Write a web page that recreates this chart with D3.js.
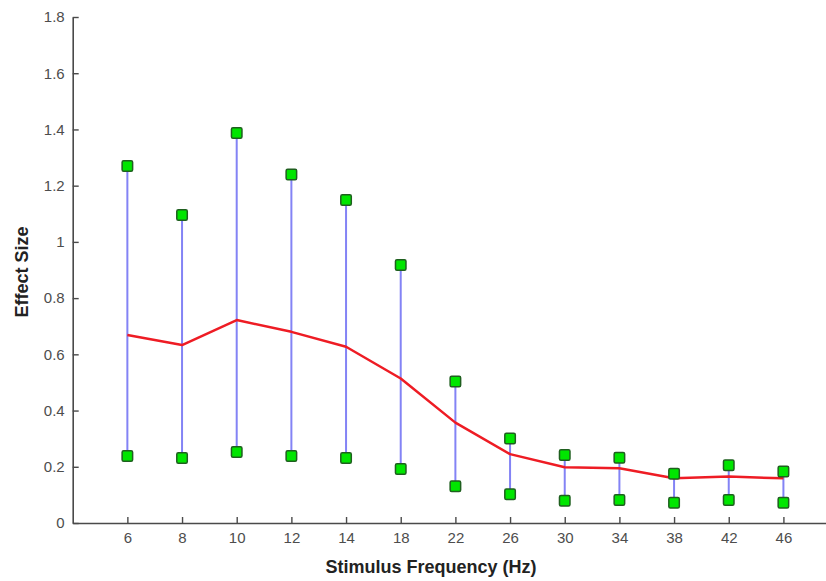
<!DOCTYPE html>
<html>
<head>
<meta charset="utf-8">
<script src="https://cdn.jsdelivr.net/npm/d3@7"></script>
<style>
  body { margin: 0; background: #fff; }
  svg { display: block; }
</style>
</head>
<body>
<div id="chart"></div>
<script>
(function (d3) {
  'use strict';

  const width = 826;
  const height = 581;

  // stimulus frequencies (Hz), shown as evenly spaced categories
  const frequencies = [6, 8, 10, 12, 14, 18, 22, 26, 30, 34, 38, 42, 46];
  const upperValues = [1.27, 1.096, 1.387, 1.24, 1.149, 0.918, 0.503, 0.301, 0.242, 0.232, 0.175, 0.205, 0.183];
  const lowerValues = [0.238, 0.231, 0.253, 0.238, 0.231, 0.192, 0.131, 0.102, 0.079, 0.082, 0.072, 0.082, 0.072];
  const meanValues = [0.669, 0.633, 0.722, 0.68, 0.627, 0.514, 0.357, 0.245, 0.198, 0.195, 0.159, 0.165, 0.159];
  const yTicks = [0, 0.2, 0.4, 0.6, 0.8, 1, 1.2, 1.4, 1.6, 1.8];

  const x0 = 72.7, yBottom = 523, yTop = 17;

  const svg = d3.select("#chart").append("svg")
    .attr("width", width)
    .attr("height", height);

  // categories sit at index 1..13, axis spans 0..14
  const x = d3.scaleLinear()
    .domain([0, frequencies.length + 1])
    .range([x0, x0 + 54.67 * (frequencies.length + 1)]);

  const y = d3.scaleLinear()
    .domain([0, 1.8])
    .range([yBottom, yTop]);

  const data = frequencies.map(function (d, i) {
    return { f: d, i: i + 1, hi: upperValues[i], lo: lowerValues[i], m: meanValues[i] };
  });

  const axisColor = "#4a4a4a";
  const textColor = "#4d4d4d";

  // x axis, ticks pointing inward
  const xAxis = svg.append("g")
    .attr("transform", "translate(0," + yBottom + ")")
    .call(d3.axisBottom(x)
      .tickValues(data.map(function (d) { return d.i; }))
      .tickFormat(function (v) { return frequencies[v - 1]; })
      .tickSizeInner(-6)
      .tickSizeOuter(0)
      .tickPadding(9));

  // y axis
  const yAxis = svg.append("g")
    .attr("transform", "translate(" + x0 + ",0)")
    .call(d3.axisLeft(y)
      .tickValues(yTicks)
      .tickFormat(function (v) { return v; })
      .tickSizeInner(-6)
      .tickSizeOuter(0)
      .tickPadding(8));

  [xAxis, yAxis].forEach(function (g) {
    g.select(".domain").attr("stroke", axisColor).attr("stroke-width", 1.6);
    g.selectAll(".tick line").attr("stroke", axisColor).attr("stroke-width", 1.4);
    g.selectAll(".tick text")
      .attr("fill", textColor)
      .style("font", "15px 'Liberation Sans', Arial, sans-serif");
  });

  // range lines
  svg.selectAll("line.range")
    .data(data)
    .enter()
    .append("line")
    .attr("class", "range")
    .attr("x1", function (d) { return x(d.i); })
    .attr("x2", function (d) { return x(d.i); })
    .attr("y1", function (d) { return y(d.lo); })
    .attr("y2", function (d) { return y(d.hi); })
    .attr("stroke", "#8383f5")
    .attr("stroke-width", 2);

  // mean line
  const line = d3.line()
    .x(function (d) { return x(d.i); })
    .y(function (d) { return y(d.m); });

  svg.append("path")
    .datum(data)
    .attr("d", line)
    .attr("fill", "none")
    .attr("stroke", "#ee1c24")
    .attr("stroke-width", 2.5)
    .attr("stroke-linejoin", "round");

  // square markers at both ends
  const size = 10.5;
  const ends = [];
  data.forEach(function (d) {
    ends.push({ i: d.i, v: d.hi });
    ends.push({ i: d.i, v: d.lo });
  });

  svg.selectAll("rect.marker")
    .data(ends)
    .enter()
    .append("rect")
    .attr("class", "marker")
    .attr("x", function (d) { return x(d.i) - size / 2; })
    .attr("y", function (d) { return y(d.v) - size / 2; })
    .attr("width", size)
    .attr("height", size)
    .attr("rx", 1.5)
    .attr("fill", "#00e600")
    .attr("stroke", "#1f5f1f")
    .attr("stroke-width", 1.5);

  // axis titles
  svg.append("text")
    .attr("x", 431)
    .attr("y", 573)
    .attr("text-anchor", "middle")
    .attr("fill", "#222")
    .style("font", "bold 18px 'Liberation Sans', Arial, sans-serif")
    .text("Stimulus Frequency (Hz)");

  svg.append("text")
    .attr("transform", "translate(28,272) rotate(-90)")
    .attr("text-anchor", "middle")
    .attr("fill", "#222")
    .style("font", "bold 18px 'Liberation Sans', Arial, sans-serif")
    .text("Effect Size");

}(d3));
</script>
</body>
</html>
